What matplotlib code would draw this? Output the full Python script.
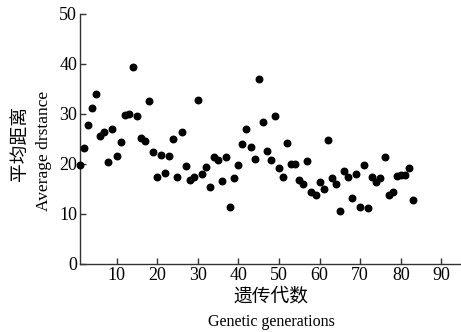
import matplotlib
matplotlib.use("Agg")
import matplotlib.pyplot as plt

# generation number and average distance
generations = list(range(1, 84))
avg_distance = [
    19.8, 23.1, 27.8, 31.1, 33.9, 25.5, 26.3, 20.4, 26.9, 21.5,
    24.4, 29.7, 29.9, 39.3, 29.5, 25.1, 24.6, 32.5, 22.4, 17.4,
    21.8, 18.2, 21.5, 24.9, 17.4, 26.3, 19.5, 16.7, 17.3, 32.7,
    17.9, 19.4, 15.3, 21.3, 20.7, 16.6, 21.3, 11.3, 17.1, 19.8,
    23.9, 26.9, 23.4, 20.9, 36.9, 28.3, 22.5, 20.7, 29.5, 19.1,
    17.3, 24.1, 19.9, 19.9, 16.7, 15.9, 20.5, 14.4, 13.8, 16.4,
    15.0, 24.8, 17.1, 15.9, 10.5, 18.5, 17.3, 13.1, 18.0, 11.4,
    19.7, 11.2, 17.3, 16.4, 17.1, 21.3, 13.7, 14.4, 17.5, 17.7,
    17.7, 19.1, 12.7,
]
xticks = [10, 20, 30, 40, 50, 60, 70, 80, 90]
yticks = [0, 10, 20, 30, 40, 50]

serif = "Liberation Serif"
cjk = ["Noto Sans CJK SC", "DejaVu Sans"]

fig = plt.figure(figsize=(4.61, 3.32), dpi=100)
ax = fig.add_axes([0.1735, 0.205, 0.8245, 0.753])

ax.scatter(generations, avg_distance, s=22, c="black", clip_on=False, zorder=3)

ax.set_xlim(1, 94.6)
ax.set_ylim(0, 50)
ax.set_xticks(xticks)
ax.set_yticks(yticks)
for side in ["top", "right"]:
    ax.spines[side].set_visible(False)
for side in ["left", "bottom"]:
    ax.spines[side].set_color("#333333")
    ax.spines[side].set_linewidth(1.0)
ax.tick_params(direction="in", length=4, width=1, color="#333333",
               labelsize=13, pad=2)
for lab in ax.get_xticklabels() + ax.get_yticklabels():
    lab.set_fontfamily(serif)

fig.text(0.588, 0.11, "遗传代数", ha="center", va="center",
         fontsize=13.5, family=cjk)
fig.text(0.588, 0.03, "Genetic generations", ha="center", va="center",
         fontsize=11.5, family=serif)
fig.text(0.043, 0.569, "平均距离", ha="center", va="center", rotation=90,
         fontsize=13.5, family=cjk)
fig.text(0.095, 0.544, "Average drstance", ha="center", va="center",
         rotation=90, fontsize=12.5, family=serif)

plt.savefig("out.png", dpi=100)
